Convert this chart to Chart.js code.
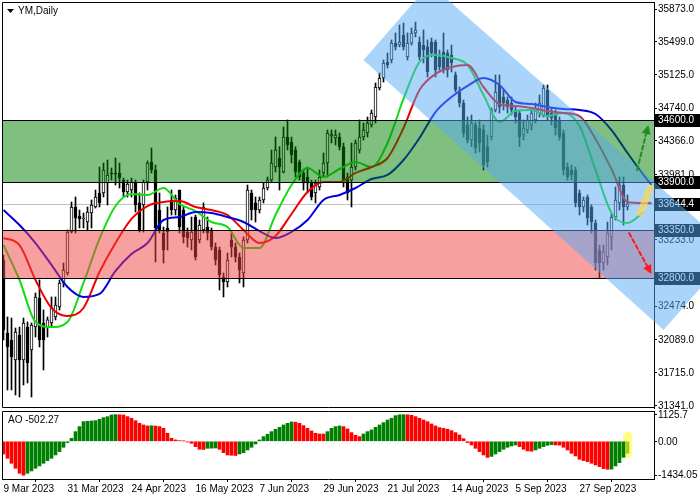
<!DOCTYPE html>
<html>
<head>
<meta charset="utf-8">
<script src="https://cdn.jsdelivr.net/npm/chart.js@4.4.0/dist/chart.umd.min.js"></script>
<style>
  html, body { margin: 0; padding: 0; background: #fff; }
  #wrap { position: relative; width: 700px; height: 500px; overflow: hidden; background: #fff; }
  #priceChart { position: absolute; left: 0; top: 0; }
  #aoChart { position: absolute; left: 0; top: 400px; }
</style>
</head>
<body>
<div id="wrap">
  <canvas id="priceChart" width="700" height="500"></canvas>
  <canvas id="aoChart" width="700" height="100"></canvas>
</div>
<script>
const FAMILY = '"Liberation Sans", Arial, sans-serif';
const FONT = '10px ' + FAMILY;

// daily bars, index 0 = 9 Mar 2023
const opens = [
  33003,32168,32088,31859,32145,31859,32236,31973,32236,32568,
  32282,32225,32282,32351,32465,32740,32854,33323,33609,33506,
  33472,33437,33540,33609,33769,33769,33883,33998,33998,33998,
  33917,33780,33803,33895,33655,33632,33895,34123,34032,33574,
  33311,33369,33689,33574,33803,33574,33323,33231,33494,33231,
  33346,33380,33346,33151,33117,32808,32751,33231,33151,33037,
  32854,33231,33769,33655,33574,33689,33826,33917,34066,34169,
  34009,34409,34352,34261,34123,33998,33952,33883,33769,33838,
  33998,34112,34421,34398,34409,34298,33952,33917,34066,34261,
  34409,34455,34547,34638,34970,35084,35267,35290,35484,35461,
  35576,35324,35484,35599,35496,35461,35439,35496,35496,35324,
  35381,35370,35347,35119,34924,34798,34547,34375,34547,34512,
  34489,34298,34409,34718,35004,34867,34832,34798,34718,34684,
  34432,34489,34547,34604,34684,34661,34947,34684,34661,34604,
  34455,34066,34032,34032,33769,33609,33723,33609,33426,33117,
  32968,33037,33266,33494,33655,33860,33609
];
const highs = [
  33060,32351,32339,32225,32236,32339,32294,32282,32625,32774,
  32431,32351,32580,32580,32774,32968,33346,33666,33723,33574,
  33540,33609,33689,33803,34066,34112,34146,34055,34169,34112,
  33940,33917,33940,33917,33769,33917,34135,34284,34089,33769,
  33380,33609,33803,33746,33803,33609,33369,33494,33517,33460,
  33655,33494,33369,33197,33151,32854,33083,33311,33197,33083,
  33266,33860,33803,33723,33723,33883,33952,34261,34409,34298,
  34524,34604,34409,34298,34146,34032,34066,33917,33917,34032,
  34226,34489,34489,34489,34455,34341,33998,34341,34375,34604,
  34569,34638,34718,35027,35141,35290,35370,35519,35599,35690,
  35713,35599,35656,35724,35553,35633,35519,35541,35519,35404,
  35599,35404,35461,35153,34981,34832,34638,34661,34581,34604,
  34547,34432,34741,35119,35119,34947,34867,34867,34752,34718,
  34604,34661,34741,34798,34890,35004,35004,34741,34718,34638,
  34489,34112,34089,34066,33803,33723,33746,33632,33460,33174,
  33174,33437,33540,33838,33952,33952,33746
];
const lows = [
  32088,31516,31516,31459,31436,31573,31596,31436,32122,32008,
  31745,32122,32236,32317,32431,32694,32831,33311,33311,33369,
  33369,33346,33369,33597,33609,33723,33632,33917,33860,33826,
  33723,33723,33723,33552,33323,33323,33803,33998,32980,33311,
  32968,33117,33517,33517,33311,33197,33151,33117,33003,33197,
  33311,33231,33117,32946,32660,32580,32694,33037,32980,32740,
  32694,33197,33460,33437,33540,33655,33803,33895,34009,33803,
  33998,34261,34112,33952,33917,33803,33769,33689,33655,33803,
  33952,33952,34341,34318,34261,33838,33689,33609,34032,34226,
  34375,34409,34524,34569,34947,35038,35198,35256,35404,35439,
  35404,35290,35461,35553,35290,35256,35095,35324,35095,35176,
  35141,35095,35153,34924,34752,34409,34341,34298,34226,34238,
  34032,34066,34375,34695,34684,34718,34684,34661,34569,34298,
  34375,34455,34489,34569,34638,34638,34604,34547,34432,34375,
  33975,33917,33917,33609,33517,33552,33403,33311,32888,32797,
  32888,32946,33117,33460,33574,33403,33574
];
const closes = [
  32202,32008,31893,32179,31859,32282,31825,32259,32580,32088,
  32088,32317,32465,32488,32740,32888,33323,33609,33483,33472,
  33483,33552,33632,33723,33655,34032,33975,33986,33986,33940,
  33780,33872,33895,33632,33346,33895,34112,34032,33369,33346,
  33117,33323,33574,33712,33380,33266,33254,33323,33037,33403,
  33609,33311,33151,33003,32831,32751,33003,33151,33037,32888,
  33231,33803,33574,33574,33689,33826,33917,34112,34261,34066,
  34409,34318,34203,34009,33952,33883,33883,33723,33883,33952,
  34112,34455,34444,34432,34298,33917,33769,34066,34341,34409,
  34489,34569,34684,34981,35084,35256,35233,35484,35439,35496,
  35439,35484,35599,35633,35324,35404,35153,35370,35176,35210,
  35176,35176,35256,34947,34798,34455,34375,34569,34284,34341,
  34089,34123,34718,34924,34752,34798,34752,34718,34638,34409,
  34512,34604,34684,34741,34798,34970,34638,34627,34512,34409,
  34032,33952,33975,33655,33609,33689,33483,33437,32968,32968,
  33094,33311,33494,33689,33860,33609,33644.4
];

// date axis
const dateTicks = [0, 16, 32, 48, 64, 80, 96, 112, 128, 144];
const dateLabels = ["9 Mar 2023", "31 Mar 2023", "24 Apr 2023", "16 May 2023", "7 Jun 2023",
  "29 Jun 2023", "21 Jul 2023", "14 Aug 2023", "5 Sep 2023", "27 Sep 2023"];

// alligator lines, read every 4 bars
const maIdx = [0,4,8,12,16,20,24,28,32,36,40,44,48,52,56,60,64,68,72,76,80,
  84,88,92,96,100,104,108,112,116,120,124,128,132,136,140,144,148,152,156,160,162];
const jaw = [33574,33403,33197,32946,32694,32580,32614,32877,33071,33197,33460,
  33494,33552,33540,33494,33437,33334,33254,33323,33460,33689,33746,33826,33929,
  33975,34146,34398,34695,34867,34993,35084,35004,34810,34787,34752,34729,34718,
  34672,34489,34226,33975,33860];
const teeth = [33254,33174,32774,32454,32363,32454,32865,33197,33472,33620,33666,
  33677,33609,33574,33517,33346,33197,33277,33529,33780,33895,33895,33998,34066,
  34169,34512,34947,35130,35210,35233,34981,34787,34764,34741,34707,34684,34649,
  34387,34043,33666,33655,33655];
const lips = [33174,32774,32294,32236,32294,32740,33243,33620,33758,33746,33826,
  33643,33563,33437,33380,33140,33140,33517,33860,34055,33952,34043,34123,34066,
  34341,34844,35267,35347,35313,35233,34890,34581,34707,34718,34649,34684,34535,
  34032,33540,33426,33552,null];

// awesome oscillator
const ao = [
  -535,-718,-929,-1140,-1352,-1434.05,-1352,-1253,-1140,-1042,
  -929,-817,-718,-577,-436,-253,-56,127,408,620,
  831,845,859,873,929,1000,1042,1112,1125.7,1120,
  1112,1042,972,873,760,690,648,655,645,620,
  549,338,127,56,28,14,-28,-84,-225,-338,
  -345,-296,-290,-282,-338,-479,-577,-591,-600,-535,
  -479,-366,-253,-113,56,197,296,408,507,591,
  690,760,817,810,760,662,549,436,338,310,
  305,408,549,620,648,620,521,366,253,197,
  310,408,479,591,690,789,901,972,1084,1120,
  1125.7,1120,1098,1042,972,901,831,732,648,577,
  549,507,451,366,268,113,-56,-155,-296,-436,
  -577,-680,-640,-535,-436,-338,-253,-197,-155,-225,
  -338,-408,-420,-366,-296,-225,-169,-141,-155,-160,
  -253,-366,-507,-620,-760,-817,-859,-929,-1000,-1070,
  -1155,-1183,-1175,-1042,-901,-676,-502.27
];

// axes
const priceTicks = [35873, 35499, 35125, 34740, 34366, 33981, 33607, 33233, 32858, 32474, 32089, 31715, 31341];
const aoTicks = [1125.7, 0, -1434.05];
const aoTickLabels = ["1125.7", "0.00", "-1434.05"];
const xMin = -0.375, xMax = 162.625;
const yMin = 31310.1, yMax = 35953.1;
const aoMin = -1593, aoMax = 1280;

// levels and drawings
const levels = [34600, 33900, 33350, 32800];
const lastPrice = 33644.4;
const buyZone = [33900, 34600];
const sellZone = [32800, 33350];
const channelIdx = [90, 106.6, 182.3, 165];
const channelPrice = [35290, 36158, 33103, 32202];
const upArrowIdx = [158.4, 161.2];
const upArrowPrice = [34032, 34546];
const downArrowIdx = [156.4, 162];
const downArrowPrice = [33311, 32843];
const markIdx = [159.2, 161.7];
const markPrice = [33540, 33826];
const aoGlow = [393, -705];

function drawArrow(ctx, x1, y1, x2, y2, color) {
    const ang = Math.atan2(y2 - y1, x2 - x1);
    const head = 9;
    const bx = x2 - head * Math.cos(ang), by = y2 - head * Math.sin(ang);
    ctx.save();
    ctx.strokeStyle = color;
    ctx.fillStyle = color;
    ctx.lineWidth = 2;
    ctx.setLineDash([4, 3]);
    ctx.beginPath();
    ctx.moveTo(x1, y1);
    ctx.lineTo(bx, by);
    ctx.stroke();
    ctx.setLineDash([]);
    ctx.beginPath();
    ctx.moveTo(x2, y2);
    ctx.lineTo(bx + 4.5 * Math.sin(ang), by - 4.5 * Math.cos(ang));
    ctx.lineTo(bx - 4.5 * Math.sin(ang), by + 4.5 * Math.cos(ang));
    ctx.closePath();
    ctx.fill();
    ctx.restore();
}

function hline(ctx, a, py, color) {
    const y = Math.round(py) + 0.5;
    ctx.strokeStyle = color;
    ctx.lineWidth = 1;
    ctx.beginPath();
    ctx.moveTo(a.left, y);
    ctx.lineTo(a.right, y);
    ctx.stroke();
}

const priceOverlay = {
    id: 'priceOverlay',
    beforeDatasetsDraw(chart) {
        const { ctx, chartArea: a, scales: { y } } = chart;
        ctx.save();
        hline(ctx, a, y.getPixelForValue(lastPrice), '#c0c0c0');
        ctx.restore();
    },
    afterDatasetsDraw(chart) {
        const { ctx, chartArea: a, scales: { y } } = chart;
        ctx.save();
        // zones
        let t = Math.round(y.getPixelForValue(buyZone[1])), b = Math.round(y.getPixelForValue(buyZone[0]));
        ctx.fillStyle = 'rgba(0,128,0,0.5)';
        ctx.fillRect(a.left, t, a.right - a.left, b - t);
        t = Math.round(y.getPixelForValue(sellZone[1]));
        b = Math.round(y.getPixelForValue(sellZone[0]));
        ctx.fillStyle = 'rgba(241,65,65,0.5)';
        ctx.fillRect(a.left, t, a.right - a.left, b - t);
        levels.forEach(v => hline(ctx, a, y.getPixelForValue(v), '#000'));
        ctx.restore();
    },
    afterDraw(chart) {
        const { ctx, chartArea: a, scales: { x, y } } = chart;
        ctx.save();
        // panel frame
        ctx.strokeStyle = '#000';
        ctx.lineWidth = 1;
        ctx.beginPath();
        ctx.moveTo(a.right, a.top + 0.5);
        ctx.lineTo(a.left + 0.5, a.top + 0.5);
        ctx.lineTo(a.left + 0.5, a.bottom - 0.5);
        ctx.lineTo(a.right, a.bottom - 0.5);
        ctx.stroke();

        // price labels, skipping the ones hidden by level boxes
        const boxed = levels.concat([lastPrice]);
        ctx.font = FONT;
        ctx.textBaseline = 'middle';
        ctx.textAlign = 'left';
        ctx.fillStyle = '#000';
        priceTicks.forEach(v => {
            const py = y.getPixelForValue(v);
            if (boxed.some(b => Math.abs(y.getPixelForValue(b) - py) < 6)) return;
            ctx.fillText(v.toFixed(1), a.right + 4, py + 0.5);
        });

        // level boxes
        boxed.forEach(v => {
            const py = Math.round(y.getPixelForValue(v));
            ctx.fillStyle = '#000';
            ctx.fillRect(a.right + 1, py - 6, 45, 13);
            ctx.fillStyle = '#fff';
            ctx.fillText(v.toFixed(1), a.right + 4, py + 0.5);
        });

        // title
        ctx.fillStyle = '#000';
        ctx.beginPath();
        ctx.moveTo(7, 9);
        ctx.lineTo(14, 9);
        ctx.lineTo(10.5, 13);
        ctx.closePath();
        ctx.fill();
        ctx.fillText('YM,Daily', 18, 11);

        // down channel
        ctx.fillStyle = 'rgba(85,170,245,0.5)';
        ctx.beginPath();
        channelIdx.forEach((v, i) => {
            const px = x.getPixelForValue(v), py = y.getPixelForValue(channelPrice[i]);
            if (i === 0) ctx.moveTo(px, py); else ctx.lineTo(px, py);
        });
        ctx.closePath();
        ctx.fill();

        // highlight of the last bars
        ctx.strokeStyle = 'rgba(255,215,80,0.7)';
        ctx.lineWidth = 7;
        ctx.lineCap = 'round';
        ctx.beginPath();
        ctx.moveTo(x.getPixelForValue(markIdx[0]), y.getPixelForValue(markPrice[0]));
        ctx.lineTo(x.getPixelForValue(markIdx[1]), y.getPixelForValue(markPrice[1]));
        ctx.stroke();

        drawArrow(ctx, x.getPixelForValue(upArrowIdx[0]), y.getPixelForValue(upArrowPrice[0]),
            x.getPixelForValue(upArrowIdx[1]), y.getPixelForValue(upArrowPrice[1]), '#238c23');
        drawArrow(ctx, x.getPixelForValue(downArrowIdx[0]), y.getPixelForValue(downArrowPrice[0]),
            x.getPixelForValue(downArrowIdx[1]), y.getPixelForValue(downArrowPrice[1]), '#ff1a1a');
        ctx.restore();
    }
};

const wickData = opens.map((o, i) => ({ x: i, y: [lows[i], highs[i]] }));
const bodyData = opens.map((o, i) => ({ x: i, y: [o, closes[i]] }));
const bodyColors = opens.map((o, i) => closes[i] >= o ? '#ffffff' : '#000000');

function maLine(values, color) {
    return {
        type: 'line',
        data: maIdx.map((v, i) => ({ x: v, y: values[i] })),
        borderColor: color,
        borderWidth: 2,
        pointRadius: 0,
        cubicInterpolationMode: 'monotone',
        order: 0
    };
}

new Chart(document.getElementById('priceChart'), {
    type: 'bar',
    data: {
        datasets: [
            maLine(jaw, '#0000dd'),
            maLine(teeth, '#ee0000'),
            maLine(lips, '#11dd11'),
            { type: 'bar', data: bodyData, backgroundColor: bodyColors, borderColor: '#000', borderWidth: 1,
              borderSkipped: false, barThickness: 3, grouped: false, order: 1 },
            { type: 'bar', data: wickData, backgroundColor: '#000', barThickness: 1, grouped: false, order: 2 }
        ]
    },
    options: {
        responsive: false,
        animation: false,
        devicePixelRatio: 1,
        layout: { padding: { left: 2, top: 2, right: 0, bottom: 92 } },
        plugins: { legend: { display: false }, tooltip: { enabled: false } },
        scales: {
            x: { type: 'linear', display: false, min: xMin, max: xMax, offset: false },
            y: {
                type: 'linear', position: 'right', min: yMin, max: yMax, beginAtZero: false,
                afterBuildTicks: s => { s.ticks = priceTicks.map(v => ({ value: v })); },
                afterFit: s => { s.width = 46; },
                ticks: { display: false },
                grid: { drawOnChartArea: false, drawTicks: true, tickLength: 3, color: '#000' },
                border: { display: true, color: '#000', width: 1 }
            }
        }
    },
    plugins: [priceOverlay]
});

// AO panel
const aoColors = ao.map((v, i) => {
    if (i === ao.length - 1) return '#a8c820';
    return i > 0 && v > ao[i - 1] ? '#008000' : '#ff0000';
});

const aoOverlay = {
    id: 'aoOverlay',
    beforeDatasetsDraw(chart) {
        const { ctx, scales: { x, y } } = chart;
        const px = x.getPixelForValue(ao.length - 1);
        const t = y.getPixelForValue(aoGlow[0]), b = y.getPixelForValue(aoGlow[1]);
        ctx.save();
        ctx.fillStyle = 'rgba(255,255,90,0.75)';
        ctx.beginPath();
        ctx.roundRect(px - 4.5, t, 9, b - t, 4);
        ctx.fill();
        ctx.restore();
    },
    afterDraw(chart) {
        const { ctx, chartArea: a, scales: { y } } = chart;
        ctx.save();
        ctx.strokeStyle = '#000';
        ctx.lineWidth = 1;
        ctx.beginPath();
        ctx.moveTo(a.right, a.top + 0.5);
        ctx.lineTo(a.left + 0.5, a.top + 0.5);
        ctx.lineTo(a.left + 0.5, a.bottom);
        ctx.stroke();
        ctx.font = FONT;
        ctx.textBaseline = 'middle';
        ctx.fillStyle = '#000';
        aoTicks.forEach((v, i) => ctx.fillText(aoTickLabels[i], a.right + 4, y.getPixelForValue(v) + 0.5));
        ctx.fillText('AO ' + ao[ao.length - 1].toFixed(2), 8, a.top + 9);
        ctx.restore();
    }
};

new Chart(document.getElementById('aoChart'), {
    type: 'bar',
    data: {
        datasets: [{ data: ao.map((v, i) => ({ x: i, y: v })), backgroundColor: aoColors, barThickness: 3, borderWidth: 0 }]
    },
    options: {
        responsive: false,
        animation: false,
        devicePixelRatio: 1,
        layout: { padding: { left: 2, top: 11, right: 0, bottom: 0 } },
        plugins: { legend: { display: false }, tooltip: { enabled: false } },
        scales: {
            x: {
                type: 'linear', min: xMin, max: xMax, offset: false,
                afterBuildTicks: s => { s.ticks = dateTicks.map(v => ({ value: v })); },
                afterFit: s => { s.height = 21; },
                ticks: {
                    autoSkip: false, maxRotation: 0, align: 'start', padding: 1, color: '#000',
                    font: { family: FAMILY, size: 10 },
                    callback: v => dateLabels[dateTicks.indexOf(v)] || ''
                },
                grid: { drawOnChartArea: false, drawTicks: true, tickLength: 3, color: '#000' },
                border: { display: true, color: '#000' }
            },
            y: {
                type: 'linear', position: 'right', min: aoMin, max: aoMax, beginAtZero: false,
                afterBuildTicks: s => { s.ticks = aoTicks.map(v => ({ value: v })); },
                afterFit: s => { s.width = 46; },
                ticks: { display: false },
                grid: { drawOnChartArea: false, drawTicks: true, tickLength: 3, color: '#000' },
                border: { display: true, color: '#000' }
            }
        }
    },
    plugins: [aoOverlay]
});
</script>
</body>
</html>
